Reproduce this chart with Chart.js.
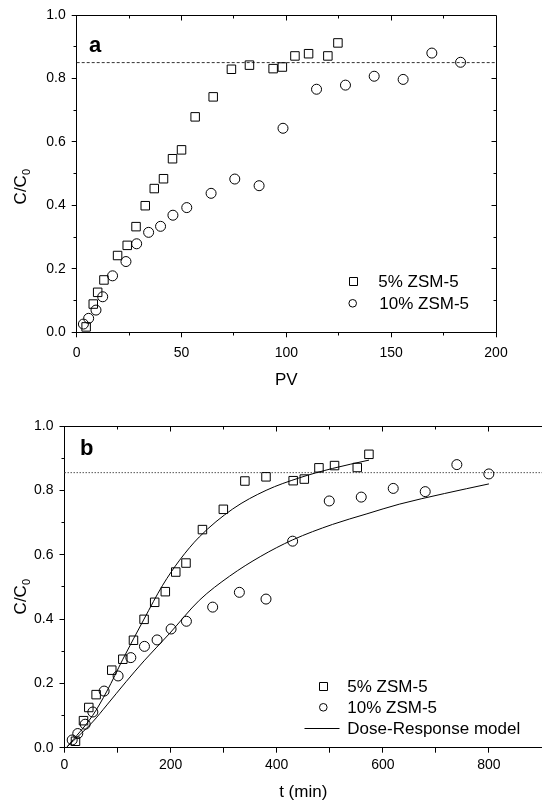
<!DOCTYPE html>
<html>
<head>
<meta charset="utf-8">
<script src="https://cdn.jsdelivr.net/npm/chart.js@4.4.0/dist/chart.umd.min.js"></script>
<style>
  html, body { margin: 0; padding: 0; background: #fff; overflow: hidden; }
  #wrapA { position: absolute; left: 0; top: 0; }
  #wrapB { position: absolute; left: 0; top: 400px; }
</style>
</head>
<body>
<div id="wrapA"><canvas id="chA" width="542" height="400"></canvas></div>
<div id="wrapB"><canvas id="chB" width="549" height="405"></canvas></div>
<script>
// panel a : C/C0 against pore volumes
var pv5  = [4.5, 7.9, 10.0, 13.0, 19.5, 24.1, 28.3, 32.7, 37.0, 41.4, 45.7, 50.0, 56.5, 65.1, 73.8, 82.4, 93.7, 98.1, 104.1, 110.6, 119.8, 124.6];
var cPv5 = [0.017, 0.089, 0.126, 0.165, 0.242, 0.274, 0.333, 0.399, 0.453, 0.484, 0.547, 0.575, 0.679, 0.742, 0.829, 0.842, 0.831, 0.836, 0.871, 0.878, 0.871, 0.912];
var pv10  = [3.2, 5.7, 9.2, 12.4, 17.1, 23.5, 28.6, 34.3, 40.0, 45.9, 52.5, 64.1, 75.4, 87.0, 98.4, 114.4, 128.2, 141.9, 155.7, 169.4, 183.1];
var cPv10 = [0.026, 0.044, 0.070, 0.112, 0.178, 0.223, 0.279, 0.315, 0.334, 0.369, 0.393, 0.438, 0.483, 0.462, 0.643, 0.766, 0.779, 0.807, 0.797, 0.880, 0.851];

// panel b : C/C0 against time (min)
var t5  = [20.7, 35.8, 45.8, 59.6, 89.1, 109.9, 130, 150, 170, 190, 209.7, 229, 260, 299.4, 340, 379.8, 431, 452, 479.6, 509, 551.8, 573.8];
var cT5 = [0.020, 0.084, 0.125, 0.165, 0.241, 0.275, 0.334, 0.399, 0.452, 0.485, 0.546, 0.574, 0.678, 0.741, 0.829, 0.842, 0.830, 0.835, 0.870, 0.877, 0.871, 0.912];
var t10  = [14.5, 25, 39, 53.4, 74.7, 101, 125, 150.7, 174.5, 200.9, 229.8, 279.3, 329.6, 379.8, 430, 499, 559.3, 619.6, 679.9, 739.5, 799.8];
var cT10 = [0.024, 0.044, 0.073, 0.111, 0.176, 0.223, 0.280, 0.315, 0.335, 0.369, 0.393, 0.437, 0.483, 0.462, 0.642, 0.767, 0.779, 0.806, 0.796, 0.880, 0.851];

// Dose-Response model lines
var fitT5  = [5, 53, 80, 110, 150, 185, 217, 254, 317, 380, 443, 505, 574];
var fitC5  = [0.003, 0.100, 0.176, 0.275, 0.400, 0.505, 0.583, 0.655, 0.742, 0.800, 0.839, 0.868, 0.894];
var fitT10 = [5, 53, 80, 116, 150, 198, 254, 311, 370, 430, 505, 570, 631, 716, 800];
var fitC10 = [0.003, 0.080, 0.133, 0.205, 0.270, 0.355, 0.458, 0.533, 0.595, 0.646, 0.694, 0.727, 0.757, 0.790, 0.820];

// reference levels
var levelA = 0.85;
var levelB = 0.855;

// tick labels
var xLabelsA = [0, 50, 100, 150, 200];
var xMinorA  = [25, 75, 125, 175];
var xLabelsB = [0, 200, 400, 600, 800];
var xMinorB  = [100, 300, 500, 700];
var yMinor   = [0.1, 0.3, 0.5, 0.7, 0.9];

var FONT = "'Liberation Sans', Arial, sans-serif";
Chart.defaults.font.family = FONT;
Chart.defaults.color = '#000';

function pts(xs, ys) {
  return xs.map(function (x, i) { return {x: x, y: ys[i]}; });
}
function al(p) { return Math.round(p - 0.5) + 0.5; }

/* frame, minor ticks, y title, panel letter and legend */
var framePlugin = {
  id: 'frame',
  afterDraw: function (chart, args, o) {
    var ctx = chart.ctx, a = chart.chartArea;
    var sx = chart.scales.x, sy = chart.scales.y;
    var L = al(a.left), R = al(a.right), T = al(a.top), B = al(a.bottom);
    ctx.save();
    ctx.strokeStyle = '#000';
    ctx.lineWidth = 1;
    ctx.beginPath();
    ctx.moveTo(L, T); ctx.lineTo(R, T);
    if (o.rightSide) ctx.lineTo(R, B);
    // minor ticks outside, all ticks inside on top / right
    o.xMinor.forEach(function (v) {
      var p = al(sx.getPixelForValue(v));
      ctx.moveTo(p, B); ctx.lineTo(p, B + 3);
      ctx.moveTo(p, T); ctx.lineTo(p, T + 3);
    });
    o.xMajor.forEach(function (v) {
      var p = al(sx.getPixelForValue(v));
      ctx.moveTo(p, T); ctx.lineTo(p, T + 5);
    });
    yMinor.forEach(function (v) {
      var p = al(sy.getPixelForValue(v));
      ctx.moveTo(L, p); ctx.lineTo(L - 3, p);
      if (o.rightSide) { ctx.moveTo(R, p); ctx.lineTo(R - 3, p); }
    });
    if (o.rightSide) {
      [0.2, 0.4, 0.6, 0.8].forEach(function (v) {
        var p = al(sy.getPixelForValue(v));
        ctx.moveTo(R, p); ctx.lineTo(R - 5, p);
      });
    }
    ctx.stroke();

    // y title C/C0
    ctx.fillStyle = '#000';
    ctx.font = '17px ' + FONT;
    var w1 = ctx.measureText('C/C').width;
    ctx.font = '11px ' + FONT;
    var w2 = ctx.measureText('0').width;
    ctx.save();
    ctx.translate(o.yTitle[0], o.yTitle[1]);
    ctx.rotate(-Math.PI / 2);
    ctx.textAlign = 'left';
    ctx.textBaseline = 'alphabetic';
    ctx.font = '17px ' + FONT;
    ctx.fillText('C/C', -(w1 + w2) / 2, 0);
    ctx.font = '11px ' + FONT;
    ctx.fillText('0', -(w1 + w2) / 2 + w1, 4);
    ctx.restore();

    // panel letter
    ctx.font = 'bold 22px ' + FONT;
    ctx.textBaseline = 'alphabetic';
    ctx.fillText(o.letter[0], o.letter[1], o.letter[2]);

    // legend
    ctx.font = '17px ' + FONT;
    ctx.textBaseline = 'middle';
    o.legend.forEach(function (it) {
      ctx.beginPath();
      if (it.kind === 'rect') {
        ctx.rect(al(it.x - 4), al(it.y - 4), 8, 8);
      } else if (it.kind === 'circle') {
        ctx.arc(it.x, it.y, 3.8, 0, Math.PI * 2);
      } else {
        ctx.moveTo(it.x - 18, al(it.y)); ctx.lineTo(it.x + 17, al(it.y));
      }
      ctx.stroke();
      ctx.fillText(it.text, it.tx, it.y + 1);
    });
    ctx.restore();
  }
};

function markers(label, data, style, r) {
  return {
    label: label, data: data, pointStyle: style, pointRadius: r,
    pointBorderColor: '#000', pointBackgroundColor: 'rgba(0,0,0,0)',
    pointBorderWidth: 1, pointHoverRadius: r, clip: false, order: 1
  };
}
function line(data, dash, color) {
  return {
    data: data, showLine: true, pointRadius: 0, borderColor: color,
    borderWidth: 1, borderDash: dash, cubicInterpolationMode: 'monotone',
    clip: false, order: 2
  };
}

function scales(o) {
  return {
    x: {
      type: 'linear', min: 0, max: o.xMax,
      afterFit: function (s) { s.height = o.xH; s.paddingLeft = 0; s.paddingRight = 0; },
      border: {display: true, color: '#000', width: 1},
      grid: {drawOnChartArea: false, drawTicks: true, tickLength: 5, color: '#000'},
      ticks: {
        stepSize: o.xStep, padding: o.xPad, font: {size: 14}, color: '#000',
        maxRotation: 0, autoSkip: false,
        callback: function (v) { return o.xLabels.indexOf(v) >= 0 ? String(v) : ''; }
      },
      title: {display: true, text: o.xTitle, font: {size: 17}, color: '#000', padding: 0}
    },
    y: {
      type: 'linear', min: 0, max: 1,
      afterFit: function (s) { s.width = o.yW; },
      border: {display: true, color: '#000', width: 1},
      grid: {drawOnChartArea: false, drawTicks: true, tickLength: 5, color: '#000'},
      ticks: {
        stepSize: 0.2, padding: 6, font: {size: 14}, color: '#000',
        callback: function (v) { return v.toFixed(1); }
      }
    }
  };
}

// panel a
var chA = document.getElementById('chA');
if (chA) {
  new Chart(chA, {
    type: 'scatter',
    data: {
      datasets: [
        markers('5% ZSM-5', pts(pv5, cPv5), 'rect', 6),
        markers('10% ZSM-5', pts(pv10, cPv10), 'circle', 5),
        line([{x: 0, y: levelA}, {x: 200, y: levelA}], [3, 2], '#333')
      ]
    },
    options: {
      responsive: false, animation: false,
      layout: {padding: {left: 0, top: 15, right: 46, bottom: 9.7}},
      scales: scales({xMax: 200, xStep: 50, xLabels: xLabelsA, xTitle: 'PV', xH: 58, xPad: 7, yW: 76.7}),
      plugins: {
        legend: {display: false}, tooltip: {enabled: false},
        frame: {
          rightSide: true,
          xMinor: xMinorA, xMajor: [50, 100, 150],
          yTitle: [26, 186.7], letter: ['a', 89, 52],
          legend: [
            {kind: 'rect', x: 353.3, y: 281.7, tx: 378.3, text: '5% ZSM-5'},
            {kind: 'circle', x: 352.7, y: 303.3, tx: 379.3, text: '10% ZSM-5'}
          ]
        }
      }
    },
    plugins: [framePlugin]
  });
}

// panel b
var chB = document.getElementById('chB');
if (chB) {
  new Chart(chB, {
    type: 'scatter',
    data: {
      datasets: [
        markers('5% ZSM-5', pts(t5, cT5), 'rect', 6),
        markers('10% ZSM-5', pts(t10, cT10), 'circle', 5),
        line(pts(fitT5, fitC5), [], '#000'),
        line(pts(fitT10, fitC10), [], '#000'),
        line([{x: 0, y: levelB}, {x: 900, y: levelB}], [1.5, 1.5], '#555')
      ]
    },
    options: {
      responsive: false, animation: false,
      layout: {padding: {left: 0, top: 26, right: 6, bottom: 2.8}},
      scales: scales({xMax: 900, xStep: 100, xLabels: xLabelsB, xTitle: 't (min)', xH: 54.5, xPad: 4.5, yW: 64.5}),
      plugins: {
        legend: {display: false}, tooltip: {enabled: false},
        frame: {
          rightSide: false,
          xMinor: xMinorB, xMajor: [200, 400, 600, 800],
          yTitle: [26, 196.7], letter: ['b', 80, 55],
          legend: [
            {kind: 'rect', x: 323.3, y: 286.7, tx: 347.3, text: '5% ZSM-5'},
            {kind: 'circle', x: 323.3, y: 307.3, tx: 347.3, text: '10% ZSM-5'},
            {kind: 'line', x: 322.5, y: 328.3, tx: 347.3, text: 'Dose-Response model'}
          ]
        }
      }
    },
    plugins: [framePlugin]
  });
}
</script>
</body>
</html>
